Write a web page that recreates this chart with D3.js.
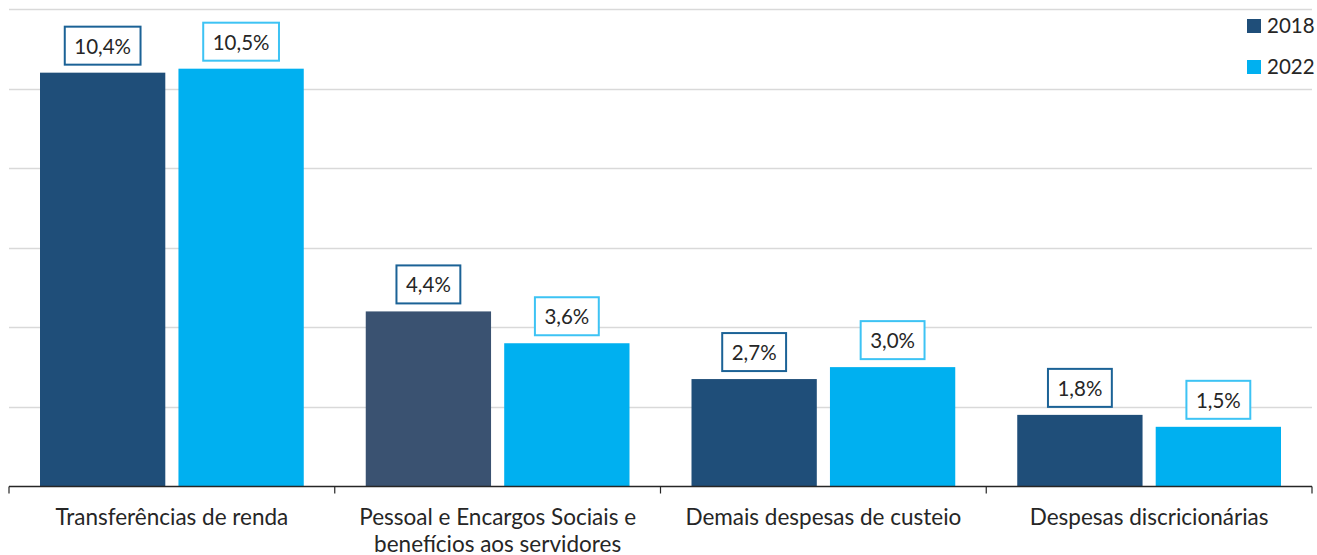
<!DOCTYPE html>
<html>
<head>
<meta charset="utf-8">
<script src="https://cdn.jsdelivr.net/npm/d3@7"></script>
<style>
  html, body { margin: 0; padding: 0; background: #fff; }
  svg text { font-family: Lato, "Open Sans", sans-serif; fill: #262626; }
</style>
</head>
<body>
<div id="chart"></div>
<script>
const categories = [
  ['Transferências de renda'],
  ['Pessoal e Encargos Sociais e', 'benefícios aos servidores'],
  ['Demais despesas de custeio'],
  ['Despesas discricionárias']
];
const seriesNames = ['2018', '2022'];
const values2018 = [10.4, 4.4, 2.7, 1.8];
const values2022 = [10.5, 3.6, 3.0, 1.5];
const yTicks = [0, 2, 4, 6, 8, 10, 12];

const width = 1317;
const height = 555;
const margin = { top: 9, right: 5, bottom: 68, left: 9 };

const colors = { '2018': '#1F4E79', '2022': '#00B0F0' };
const boxColors = { '2018': '#1B6296', '2022': '#3DC3F4' };
// the second 2018 bar is a slightly greyer navy in the source
const barOverride = { '1-2018': '#3A5271' };

const keys = categories.map((c, i) => i);
const data = keys.map(i => ({
  idx: i,
  label: categories[i],
  values: [
    { series: '2018', value: values2018[i] },
    { series: '2022', value: values2022[i] }
  ]
}));

const svg = d3.select('#chart')
  .append('svg')
  .attr('width', width)
  .attr('height', height);

const x0 = d3.scaleBand()
  .domain(keys)
  .range([margin.left, width - margin.right])
  .padding(0);

const x1 = d3.scaleBand()
  .domain(seriesNames)
  .range([31, x0.bandwidth() - 31])
  .paddingInner(0.095);

const y = d3.scaleLinear()
  .domain([0, 12])
  .range([height - margin.bottom - 0.5, margin.top]);

// gridlines
svg.append('g')
  .attr('class', 'grid')
  .selectAll('line')
  .data(yTicks.filter(d => d > 0))
  .join('line')
  .attr('x1', margin.left)
  .attr('x2', width - margin.right)
  .attr('y1', d => Math.round(y(d)) + 0.5)
  .attr('y2', d => Math.round(y(d)) + 0.5)
  .attr('stroke', '#d9d9d9')
  .attr('stroke-width', 1.5);

// bars
const groups = svg.append('g')
  .selectAll('g')
  .data(data)
  .join('g')
  .attr('transform', d => `translate(${x0(d.idx)},0)`);

groups.selectAll('rect')
  .data(d => d.values.map(v => Object.assign({ idx: d.idx }, v)))
  .join('rect')
  .attr('x', d => x1(d.series))
  .attr('width', x1.bandwidth())
  .attr('y', d => y(d.value))
  .attr('height', d => y(0) - y(d.value))
  .attr('fill', d => barOverride[`${d.idx}-${d.series}`] || colors[d.series]);

// value labels in boxes
const fmt = v => d3.format('.1f')(v).replace('.', ',') + '%';
const labels = groups.selectAll('g.lbl')
  .data(d => d.values)
  .join('g')
  .attr('class', 'lbl')
  .attr('transform', d => `translate(${x1(d.series) + x1.bandwidth() / 2},${y(d.value) - 8})`);

labels.append('text')
  .attr('text-anchor', 'middle')
  .attr('y', -11)
  .attr('font-size', 20.5)
  .text(d => fmt(d.value));

labels.each(function (d) {
  const g = d3.select(this);
  const bb = g.select('text').node().getBBox();
  const padX = 9.5;
  g.insert('rect', 'text')
    .attr('x', bb.x - padX)
    .attr('y', -38)
    .attr('width', bb.width + padX * 2)
    .attr('height', 38)
    .attr('fill', '#fff')
    .attr('stroke', boxColors[d.series])
    .attr('stroke-width', 2);
});

// x axis
const axisG = svg.append('g')
  .attr('transform', `translate(0,${y(0)})`);

axisG.append('line')
  .attr('x1', margin.left)
  .attr('x2', width - margin.right)
  .attr('stroke', '#262626')
  .attr('stroke-width', 1.5);

axisG.selectAll('line.tick')
  .data(keys.concat([keys.length]))
  .join('line')
  .attr('class', 'tick')
  .attr('x1', d => d < keys.length ? x0(d) : x0.range()[1])
  .attr('x2', d => d < keys.length ? x0(d) : x0.range()[1])
  .attr('y1', 0)
  .attr('y2', 7)
  .attr('stroke', '#262626')
  .attr('stroke-width', 1.2);

axisG.selectAll('text.cat')
  .data(data)
  .join('text')
  .attr('class', 'cat')
  .attr('text-anchor', 'middle')
  .attr('font-size', 22.5)
  .attr('x', d => x0(d.idx) + x0.bandwidth() / 2)
  .attr('y', 38.5)
  .each(function (d) {
    d3.select(this).selectAll('tspan')
      .data(d.label)
      .join('tspan')
      .attr('x', x0(d.idx) + x0.bandwidth() / 2)
      .attr('dy', (t, i) => i === 0 ? 0 : 26.5)
      .text(t => t);
  });

// legend
const legend = svg.append('g')
  .attr('transform', 'translate(1247,19)');

const li = legend.selectAll('g')
  .data(seriesNames)
  .join('g')
  .attr('transform', (d, i) => `translate(0,${i * 41})`);

li.append('rect')
  .attr('width', 14)
  .attr('height', 14)
  .attr('fill', d => colors[d]);

li.append('text')
  .attr('x', 20)
  .attr('y', 14)
  .attr('font-size', 20.5)
  .text(d => d);
</script>
</body>
</html>
